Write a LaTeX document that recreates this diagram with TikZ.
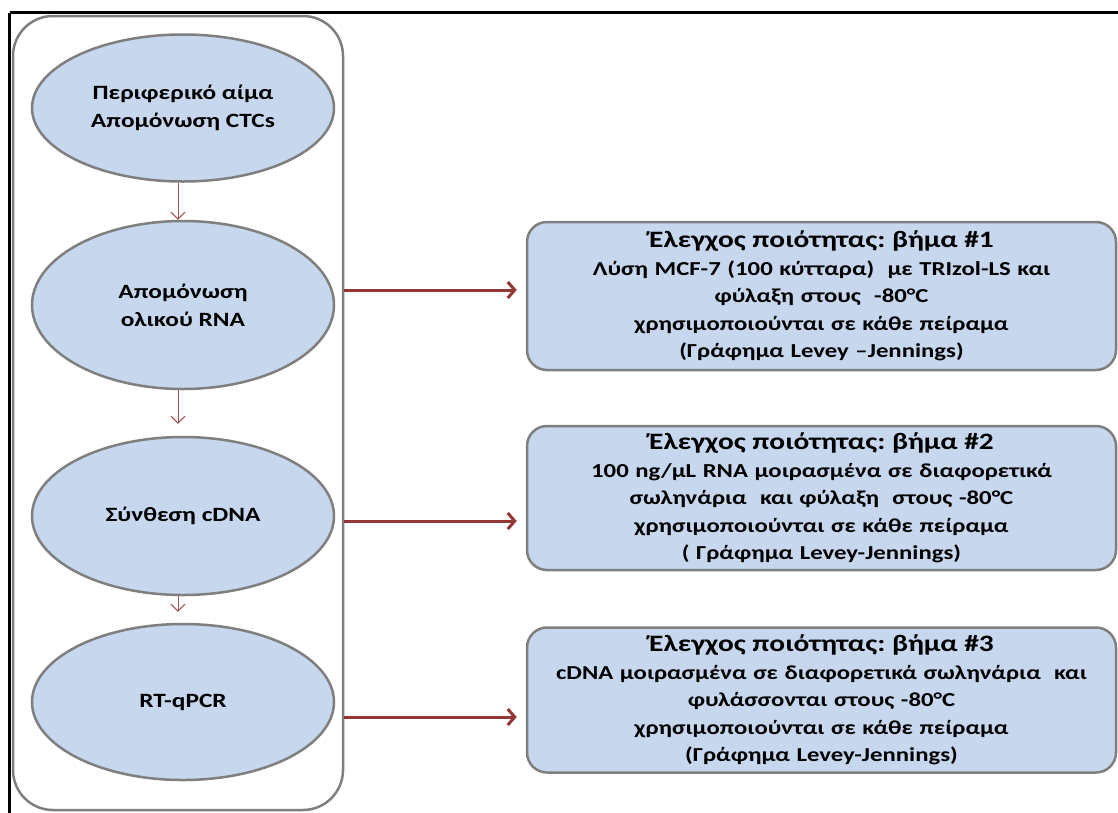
\documentclass[tikz,border=0pt]{standalone}
\usepackage{fontspec}
\setmainfont{Carlito}[FakeStretch=1.25]
\usetikzlibrary{arrows.meta,shapes.geometric}
\definecolor{fillb}{HTML}{C6D7EE}
\definecolor{edgegray}{HTML}{7F7F7F}
\definecolor{darr}{HTML}{943634}
\definecolor{sarr}{HTML}{A0524D}
\frenchspacing
\begin{document}
\begin{tikzpicture}[x=1pt,y=-1pt,
  stepell/.style={ellipse, draw=edgegray, line width=2.5pt, fill=fillb, inner sep=0pt,
    font=\bfseries\fontsize{20.3}{28}\selectfont, align=center, minimum width=302pt},
  qcbox/.style={rectangle, rounded corners=20pt, draw=edgegray, line width=2.5pt, fill=fillb,
    minimum width=589pt, text width=585pt, align=center, inner sep=0pt,
    font=\bfseries\fontsize{19.8}{27.5}\selectfont},
  holder/.style={rectangle, rounded corners=40pt, draw=edgegray, line width=2.5pt, fill=white,
    minimum width=330pt, minimum height=794pt, inner sep=0pt},
  bigarrow/.style={draw=darr, line width=3pt, -{Straight Barb[length=7pt,width=16pt]}},
  smallarrow/.style={draw=sarr, line width=0.9pt, -{Straight Barb[length=7pt,width=14pt]}}
]
\useasboundingbox (0,0) rectangle (1118,812);
\draw[line width=2.5pt] (9.5,12.5) -- (1140,12.5);
\draw[line width=2.5pt] (9.5,12.5) -- (9.5,840);
\node[holder] (frame) at (178,413) {};
\node[stepell, minimum height=147pt] (e1) at (183,108) {Περιφερικό αίμα\\Απομόνωση CTCs};
\node[stepell, minimum height=168pt] (e2) at (183,305) {Απομόνωση\\ολικού RNA};
\node[stepell, minimum height=158pt] (e3) at (183,516) {Σύνθεση cDNA};
\node[stepell, minimum height=156pt] (e4) at (183,702) {RT-qPCR};

\node[qcbox, minimum height=148pt] (b1) at (821.5,296) {{\fontsize{23.5}{28}\selectfont Έλεγχος ποιότητας: βήμα \#1}\\
Λύση MCF-7 (100 κύτταρα) \ με TRIzol-LS και\\
φύλαξη στους \ -80°C\\
χρησιμοποιούνται σε κάθε πείραμα\\
(Γράφημα Levey –Jennings)};
\node[qcbox, minimum height=144pt] (b2) at (821.5,498) {{\fontsize{23.5}{28}\selectfont Έλεγχος ποιότητας: βήμα \#2}\\
100 ng/μL RNA μοιρασμένα σε διαφορετικά\\
σωληνάρια \ και φύλαξη \ στους -80°C\\
χρησιμοποιούνται σε κάθε πείραμα\\
( Γράφημα Levey-Jennings)};
\node[qcbox, minimum height=145pt] (b3) at (821.5,700) {{\fontsize{23.5}{28}\selectfont Έλεγχος ποιότητας: βήμα \#3}\\
cDNA μοιρασμένα σε διαφορετικά σωληνάρια \ και\\
φυλάσσονται στους -80°C\\
χρησιμοποιούνται σε κάθε πείραμα\\
(Γράφημα Levey-Jennings)};

\coordinate (s1) at ([xshift=-5pt]e1.south);
\coordinate (s2) at ([xshift=-5pt]e2.south);
\coordinate (s3) at ([xshift=-5pt]e3.south);
\draw[smallarrow] (s1) -- (s1 |- e2.north);
\draw[smallarrow, shorten >=12pt] (s2) -- (s2 |- e3.north);
\draw[smallarrow, shorten >=11pt] (s3) -- (s3 |- e4.north);

\coordinate (r1) at (frame.east |- 0,290);
\coordinate (r2) at (frame.east |- 0,521);
\coordinate (r3) at (frame.east |- 0,717);
\draw[bigarrow, shorten >=9pt] (r1) -- (r1 -| b1.west);
\draw[bigarrow, shorten >=9pt] (r2) -- (r2 -| b2.west);
\draw[bigarrow, shorten >=9pt] (r3) -- (r3 -| b3.west);
\end{tikzpicture}
\end{document}
